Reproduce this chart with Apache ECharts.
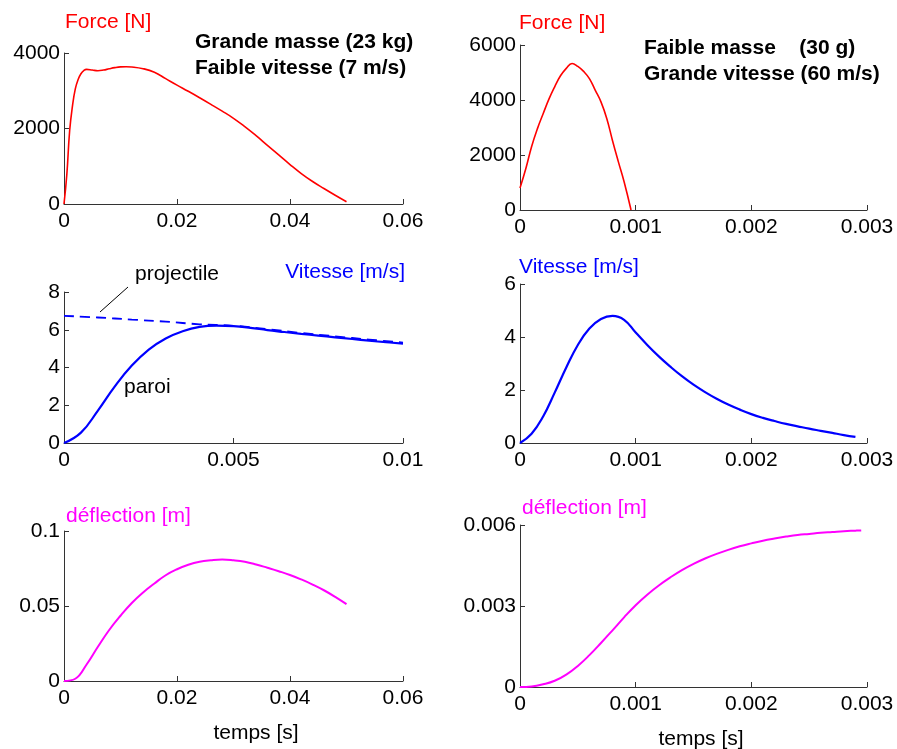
<!DOCTYPE html>
<html>
<head>
<meta charset="utf-8">
<script src="https://cdn.jsdelivr.net/npm/echarts@6/dist/echarts.min.js"></script>
<style>html,body{margin:0;padding:0;background:#fff}#c{width:897px;height:749px}</style>
</head>
<body>
<div id="c"></div>
<script>
// ---- Data ----
// Panel 1: Force, grande masse
const t1 = [0, 0.0005, 0.001, 0.0015, 0.002, 0.0025, 0.003, 0.0035, 0.004, 0.005, 0.006, 0.007, 0.008, 0.009, 0.01, 0.011, 0.012, 0.014, 0.016, 0.018, 0.02, 0.022, 0.024, 0.026, 0.028, 0.03, 0.032, 0.034, 0.036, 0.038, 0.04, 0.042, 0.044, 0.046, 0.048, 0.05];
const force1 = [0, 780, 1940, 2600, 3050, 3300, 3450, 3535, 3567, 3548, 3530, 3548, 3582, 3612, 3632, 3637, 3630, 3585, 3490, 3320, 3150, 2985, 2815, 2640, 2460, 2270, 2050, 1810, 1555, 1300, 1045, 805, 595, 410, 232, 60];
// Panel 2: Force, faible masse
const t2 = [0, 0.00005, 0.0001, 0.00015, 0.0002, 0.00025, 0.0003, 0.00035, 0.0004, 0.00045, 0.0005, 0.00055, 0.0006, 0.00065, 0.0007, 0.00075, 0.0008, 0.00085, 0.0009, 0.00096];
const force2 = [800, 1500, 2300, 2950, 3500, 4030, 4480, 4880, 5150, 5330, 5220, 5040, 4780, 4360, 3930, 3330, 2520, 1760, 1030, 0];
// Panel 3: Vitesse, grande masse (paroi = solid, projectile = dashed)
const t3 = [0, 0.0005, 0.001, 0.0015, 0.002, 0.0025, 0.003, 0.0035, 0.004, 0.0045, 0.005, 0.0055, 0.006, 0.0065, 0.007, 0.0075, 0.008, 0.0085, 0.009, 0.0095, 0.01];
const vParoi1 = [0, 0.55, 1.72, 3.0, 4.1, 4.95, 5.54, 5.92, 6.15, 6.22, 6.19, 6.1, 5.98, 5.88, 5.78, 5.69, 5.6, 5.51, 5.42, 5.34, 5.27];
const t3p = [0, 0.001, 0.002, 0.003, 0.004, 0.005, 0.006, 0.007, 0.008, 0.009, 0.01];
const vProj1 = [6.74, 6.65, 6.54, 6.43, 6.29, 6.21, 6.03, 5.83, 5.65, 5.48, 5.32];
// Panel 4: Vitesse, faible masse
const t4 = [0, 0.0001, 0.0002, 0.0003, 0.0004, 0.0005, 0.0006, 0.0007, 0.0008, 0.0009, 0.001, 0.0011, 0.0012, 0.0013, 0.0014, 0.0015, 0.0016, 0.0017, 0.0018, 0.0019, 0.002, 0.0021, 0.0022, 0.0023, 0.0024, 0.0025, 0.0026, 0.0027, 0.0028, 0.0029];
const vParoi2 = [0, 0.35, 1.0, 1.9, 2.85, 3.7, 4.32, 4.68, 4.8, 4.65, 4.17, 3.7, 3.27, 2.88, 2.52, 2.2, 1.92, 1.67, 1.45, 1.26, 1.09, 0.95, 0.83, 0.72, 0.63, 0.54, 0.46, 0.38, 0.3, 0.23];
// Panel 5: deflection, grande masse
const t5 = [0, 0.002, 0.004, 0.006, 0.008, 0.01, 0.012, 0.014, 0.016, 0.018, 0.02, 0.022, 0.024, 0.026, 0.028, 0.03, 0.032, 0.034, 0.036, 0.038, 0.04, 0.042, 0.044, 0.046, 0.048, 0.05];
const defl1 = [0, 0.0015, 0.011, 0.0228, 0.034, 0.0435, 0.052, 0.059, 0.065, 0.0705, 0.0745, 0.0775, 0.0795, 0.0805, 0.081, 0.0805, 0.0795, 0.0777, 0.0755, 0.0732, 0.0707, 0.0677, 0.0643, 0.0605, 0.0561, 0.0512];
// Panel 6: deflection, faible masse
const t6 = [0, 0.0001, 0.0002, 0.0003, 0.0004, 0.0005, 0.0006, 0.0007, 0.0008, 0.0009, 0.001, 0.0011, 0.0012, 0.0013, 0.0014, 0.0015, 0.0016, 0.0017, 0.0018, 0.0019, 0.002, 0.0021, 0.0022, 0.0023, 0.0024, 0.0025, 0.0026, 0.0027, 0.0028, 0.0029, 0.00295];
const defl2 = [0, 0.00002, 0.0001, 0.00023, 0.00046, 0.00078, 0.00118, 0.00163, 0.0021, 0.00258, 0.00303, 0.00342, 0.00376, 0.00406, 0.00433, 0.00456, 0.00476, 0.00493, 0.00508, 0.00521, 0.00532, 0.00542, 0.0055, 0.00557, 0.00563, 0.00567, 0.00571, 0.00574, 0.00577, 0.00579, 0.0058];

// Axis ranges / ticks
const xMax = [0.06, 0.003, 0.01, 0.003, 0.06, 0.003];
const xStep = [0.02, 0.001, 0.005, 0.001, 0.02, 0.001];
const yMax = [4000, 6000, 8, 6, 0.1, 0.006];
const yStep = [2000, 2000, 2, 2, 0.05, 0.003];

const FONT = 'Liberation Sans, Arial, Helvetica, sans-serif';
const RED = '#ff0000', BLUE = '#0000ff', MAG = '#ff00ff';

const grids = [
  {left: 64, top: 53, width: 339, height: 151},
  {left: 520, top: 45, width: 347, height: 165},
  {left: 64, top: 292, width: 339, height: 151},
  {left: 520, top: 284, width: 347, height: 159},
  {left: 64, top: 531, width: 339, height: 150},
  {left: 520, top: 525, width: 347, height: 162}
];

const zip = (a, b) => a.map((v, i) => [v, b[i]]);
const fmt = v => String(parseFloat(Number(v).toPrecision(8)));
const axisBase = {
  axisLine: {show: true, lineStyle: {color: '#333', width: 1}},
  axisTick: {show: true, inside: true, length: 5, lineStyle: {color: '#333'}},
  splitLine: {show: false},
  axisLabel: {color: '#000', fontSize: 21, fontFamily: FONT, formatter: fmt}
};

const xAxis = grids.map((g, i) => Object.assign({}, axisBase, {
  type: 'value', gridIndex: i, min: 0, max: xMax[i], interval: xStep[i],
  axisLabel: Object.assign({}, axisBase.axisLabel, {margin: 7})
}));
const yAxis = grids.map((g, i) => Object.assign({}, axisBase, {
  type: 'value', gridIndex: i, min: 0, max: yMax[i], interval: yStep[i],
  axisLabel: Object.assign({}, axisBase.axisLabel, {margin: 4})
}));

function line(i, t, v, color, w, dashed) {
  return {
    type: 'line', xAxisIndex: i, yAxisIndex: i, data: zip(t, v),
    showSymbol: false, symbol: 'none', smooth: 0.45,
    lineStyle: {color: color, width: w, type: dashed ? [10, 6] : 'solid'},
    animation: false, silent: true
  };
}

const series = [
  line(0, t1, force1, RED, 1.6),
  line(1, t2, force2, RED, 1.6),
  line(2, t3p, vProj1, BLUE, 1.8, true),
  line(2, t3, vParoi1, BLUE, 2.2),
  line(3, t4, vParoi2, BLUE, 2.2),
  line(4, t5, defl1, MAG, 2),
  line(5, t6, defl2, MAG, 2)
];

function txt(x, y, s, color, opts) {
  opts = opts || {};
  return {
    type: 'text', x: x, y: y, silent: true,
    style: {
      text: s, fill: color, fontSize: opts.size || 21, fontFamily: FONT,
      fontWeight: opts.bold ? 'bold' : 'normal',
      align: opts.align || 'left', verticalAlign: 'middle'
    }
  };
}

const graphic = [
  txt(65, 22, 'Force [N]', RED),
  txt(519, 23, 'Force [N]', RED),
  txt(195, 42, 'Grande masse (23 kg)', '#000', {bold: true}),
  txt(195, 68, 'Faible vitesse (7 m/s)', '#000', {bold: true}),
  txt(644, 48, 'Faible masse    (30 g)', '#000', {bold: true}),
  txt(644, 74, 'Grande vitesse (60 m/s)', '#000', {bold: true}),
  txt(405, 272, 'Vitesse [m/s]', BLUE, {align: 'right'}),
  txt(519, 267, 'Vitesse [m/s]', BLUE),
  txt(135, 274, 'projectile', '#000'),
  txt(124, 387, 'paroi', '#000'),
  txt(66, 516, 'déflection [m]', MAG),
  txt(522, 508, 'déflection [m]', MAG),
  txt(256, 733, 'temps [s]', '#000', {align: 'center'}),
  txt(701, 739, 'temps [s]', '#000', {align: 'center'}),
  {type: 'line', silent: true, shape: {x1: 100, y1: 312, x2: 128, y2: 287}, style: {stroke: '#000', lineWidth: 1}}
];

const chart = echarts.init(document.getElementById('c'), null, {renderer: 'canvas'});
chart.setOption({
  animation: false,
  backgroundColor: '#fff',
  grid: grids,
  xAxis: xAxis,
  yAxis: yAxis,
  series: series,
  graphic: graphic
});
</script>
</body>
</html>
